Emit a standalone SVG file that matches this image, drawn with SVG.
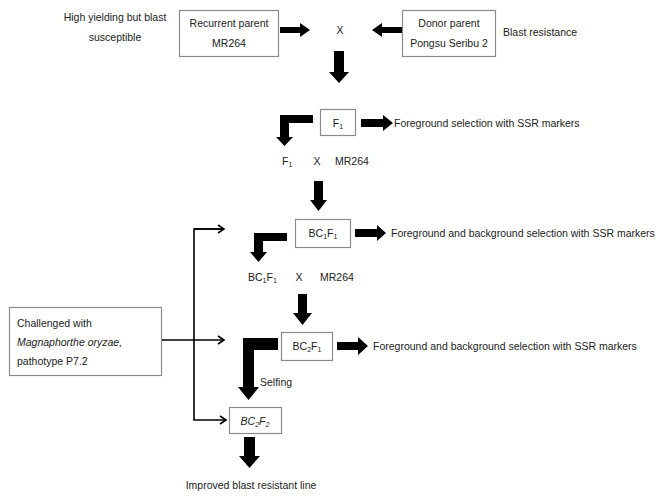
<svg xmlns="http://www.w3.org/2000/svg" width="660" height="502" viewBox="0 0 660 502">
<style>
text{font-family:"Liberation Sans",Arial,sans-serif;font-size:10.5px;fill:#222}
.box{fill:#fff;stroke:#8a8a8a;stroke-width:1.2}
.big{fill:#000}
.thin{fill:none;stroke:#000;stroke-width:1.6}
.m{text-anchor:middle}
</style>
<defs>
<marker id="ah" markerWidth="10" markerHeight="10" refX="8" refY="5" orient="auto" markerUnits="userSpaceOnUse">
<path d="M2,1 L8,5 L2,9" fill="none" stroke="#000" stroke-width="1.6"/>
</marker>
</defs>
<rect width="660" height="502" fill="#fff"/>

<text class="m" x="115" y="21">High yielding but blast</text>
<text class="m" x="115" y="41">susceptible</text>
<text x="503" y="36">Blast resistance</text>

<g id="recurrent">
<rect class="box" x="179.5" y="10.5" width="99" height="46"/>
<text class="m" x="229" y="27">Recurrent parent</text>
<text class="m" x="229" y="47">MR264</text>
</g>
<g id="donor">
<rect class="box" x="402.5" y="10.5" width="93" height="46"/>
<text class="m" x="449" y="27">Donor parent</text>
<text class="m" x="449" y="47">Pongsu Seribu 2</text>
</g>
<text class="m" x="340" y="34">X</text>

<g id="f1">
<rect class="box" x="320.5" y="109.5" width="35" height="26"/>
<text class="m" x="338" y="127">F<tspan font-size="7" dy="2">1</tspan></text>
</g>
<text x="394" y="127">Foreground selection with SSR markers</text>

<text x="282" y="165">F<tspan font-size="7" dy="2">1</tspan></text>
<text class="m" x="317" y="165">X</text>
<text x="335" y="165">MR264</text>

<g id="bc1f1">
<rect class="box" x="295.5" y="219.5" width="55" height="28"/>
<text class="m" x="323" y="237">BC<tspan font-size="7" dy="2">1</tspan><tspan dy="-2">F</tspan><tspan font-size="7" dy="2">1</tspan></text>
</g>
<text x="391" y="237">Foreground and background selection with SSR markers</text>

<text x="248" y="281">BC<tspan font-size="7" dy="2">1</tspan><tspan dy="-2">F</tspan><tspan font-size="7" dy="2">1</tspan></text>
<text class="m" x="299" y="281">X</text>
<text x="320" y="281">MR264</text>

<g id="bc2f1">
<rect class="box" x="281.5" y="332.5" width="51" height="28"/>
<text class="m" x="307" y="350">BC<tspan font-size="7" dy="2">2</tspan><tspan dy="-2">F</tspan><tspan font-size="7" dy="2">1</tspan></text>
</g>
<text x="373" y="350">Foreground and background selection with SSR markers</text>
<text x="260" y="386">Selfing</text>

<g id="bc2f2">
<rect class="box" x="229.5" y="407.5" width="52" height="26"/>
<text class="m" x="255" y="425" font-style="italic">BC<tspan font-size="7" dy="2">2</tspan><tspan dy="-2">F</tspan><tspan font-size="7" dy="2">2</tspan></text>
</g>
<text class="m" x="251" y="489">Improved blast resistant line</text>

<g id="challenge">
<rect class="box" x="9.5" y="307.5" width="152" height="68"/>
<text x="17" y="327">Challenged with</text>
<text x="17" y="346" font-style="italic">Magnaphorthe oryzae,</text>
<text x="17" y="365">pathotype P7.2</text>
</g>

<g id="connectors">
<polygon class="big" points="280,27 300,27 300,23 310,30 300,37 300,33 280,33"/>
<polygon class="big" points="402,27 382,27 382,23 372,30 382,37 382,33 402,33"/>
<polygon class="big" points="334,51 344,51 344,72 349,72 339,83 329,72 334,72"/>
<polygon class="big" points="361,119 383,119 383,115 393,123 383,131 383,127 361,127"/>
<polygon class="big" points="313,115 313,123 289,123 289,137 293,137 284.5,146 276,137 280,137 280,115"/>
<polygon class="big" points="314,181 323,181 323,200 327,200 318.5,211 310,200 314,200"/>
<polygon class="big" points="355,229 377,229 377,225 386,233 377,241 377,237 355,237"/>
<polygon class="big" points="287,233 287,241 263,241 263,252 267,252 258.5,262 250,252 254,252 254,233"/>
<polygon class="big" points="298,294 307,294 307,313 312,313 302.5,325 293,313 298,313"/>
<polygon class="big" points="337,342 358,342 358,337 368,346 358,355 358,350 337,350"/>
<polygon class="big" points="278,338 278,350 254,350 254,387 259,387 248.5,400 238,387 243,387 243,338"/>
<polygon class="big" points="244,437 255,437 255,456 260,456 249.5,468 239,456 244,456"/>
<polyline class="thin" points="224,229 194,229 194,420 226,420" marker-end="url(#ah)"/>
<line class="thin" x1="194" y1="229" x2="224" y2="229" marker-end="url(#ah)"/>
<line class="thin" x1="162" y1="340" x2="224" y2="340" marker-end="url(#ah)"/>
</g>
</svg>
